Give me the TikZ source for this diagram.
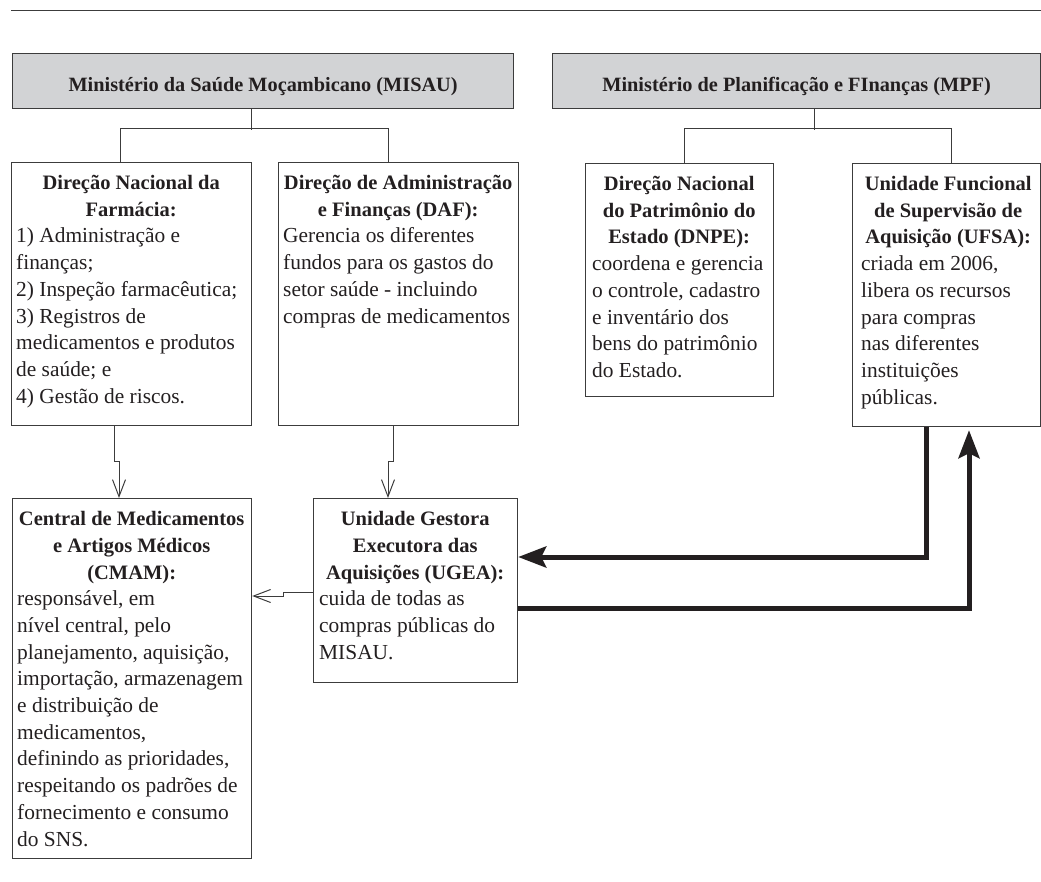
\documentclass[tikz,border=0pt]{standalone}
\usepackage{fontspec}
\setmainfont{Liberation Serif}
\usetikzlibrary{arrows.meta,calc}
\definecolor{ink}{HTML}{231F20}
\definecolor{edgec}{HTML}{3C3C3C}
\definecolor{hdr}{HTML}{D2D3D5}
\newcommand\tline[1]{\hbox to \hsize{\hss\bfseries\fontsize{20.5}{26.7}\selectfont #1\hss}}
\newcommand\bline[1]{\hbox to \hsize{#1\hss}}
\newcommand\linestack[2]{\vtop{\hsize=#1\relax\baselineskip=26.7pt\relax #2}}
\begin{document}
\begin{tikzpicture}[x=1pt,y=-1pt,
  box/.style={draw=edgec, line width=1.2pt, inner sep=0pt, anchor=north west},
  hbox/.style={box, fill=hdr},
  htxt/.style={inner sep=0pt, anchor=base, text=ink, font=\bfseries\fontsize{20.3}{24}\selectfont},
  txt/.style={inner sep=0pt, anchor=base west, text=ink, font=\fontsize{21.4}{26.7}\selectfont},
  conn/.style={draw=edgec, line width=1pt},
  tarrow/.style={conn, -{Straight Barb[length=17pt,width=13pt]}},
  bigarrow/.style={draw=ink, line width=5pt, line join=miter, -{Stealth[length=28pt,width=21pt,inset=5pt]}}
]
\useasboundingbox (0,0) rectangle (1041,882);
\draw[draw=edgec, line width=1pt] (11,11) -- (1041,11);

% headers
\node[hbox, minimum width=501pt, minimum height=55pt] (misau) at (12,53) {};
\node[htxt] (misaut) at ($(misau.center)+(0,10)$) {Ministério da Saúde Moçambicano (MISAU)};
\node[hbox, minimum width=488pt, minimum height=55pt] (mpf) at (552,53) {};
\node[htxt] (mpft) at ($(mpf.center)+(0,10)$) {Ministério de Planificação e FInanças (MPF)};

% boxes
\node[box, minimum width=240pt, minimum height=263pt] (dnf) at (11,162) {};
\node[box, minimum width=240pt, minimum height=263pt] (daf) at (278,162) {};
\node[box, minimum width=188pt, minimum height=233pt] (dnpe) at (585,163) {};
\node[box, minimum width=188pt, minimum height=263pt] (ufsa) at (852,163) {};
\node[box, minimum width=239pt, minimum height=360pt] (cmam) at (12,498) {};
\node[box, minimum width=204pt, minimum height=184pt] (ugea) at (313,498) {};

% texts
\node[txt] (dnft) at ($(dnf.north west)+(5,27.6)$) {\linestack{230pt}{%
\tline{Direção Nacional da}\tline{Farmácia:}%
\bline{1) Administração e}\bline{finanças;}\bline{2) Inspeção farmacêutica;}%
\bline{3) Registros de}\bline{medicamentos e produtos}\bline{de saúde; e}\bline{4) Gestão de riscos.}}};
\node[txt] (daft) at ($(daf.north west)+(5,27.6)$) {\linestack{230pt}{%
\tline{Direção de Administração}\tline{e Finanças (DAF):}%
\bline{Gerencia os diferentes}\bline{fundos para os gastos do}\bline{setor saúde - incluindo}\bline{compras de medicamentos}}};
\node[txt] (dnpet) at ($(dnpe.north west)+(7,27.6)$) {\linestack{174pt}{%
\tline{Direção Nacional}\tline{do Patrimônio do}\tline{Estado (DNPE):}%
\bline{coordena e gerencia}\bline{o controle, cadastro}\bline{e inventário dos}\bline{bens do patrimônio}\bline{do Estado.}}};
\node[txt] (ufsat) at ($(ufsa.north west)+(9,27.6)$) {\linestack{174pt}{%
\tline{Unidade Funcional}\tline{de Supervisão de}\tline{Aquisição (UFSA):}%
\bline{criada em 2006,}\bline{libera os recursos}\bline{para compras}\bline{nas diferentes}\bline{instituições}\bline{públicas.}}};
\node[txt] (cmamt) at ($(cmam.north west)+(5,27.6)$) {\linestack{229pt}{%
\tline{Central de Medicamentos}\tline{e Artigos Médicos}\tline{(CMAM):}%
\bline{responsável, em}\bline{nível central, pelo}\bline{planejamento, aquisição,}\bline{importação, armazenagem}%
\bline{e distribuição de}\bline{medicamentos,}\bline{definindo as prioridades,}\bline{respeitando os padrões de}%
\bline{fornecimento e consumo}\bline{do SNS.}}};
\node[txt] (ugeat) at ($(ugea.north west)+(6,27.6)$) {\linestack{192pt}{%
\tline{Unidade Gestora}\tline{Executora das}\tline{Aquisições (UGEA):}%
\bline{cuida de todas as}\bline{compras públicas do}\bline{MISAU.}}};

% tree connectors
\draw[conn] ($(misau.south west)+(239,0)$) -- ++(0,21);
\draw[conn] ($(dnf.north west)+(109,0)$) -- ++(0,-33) -| ($(daf.north west)+(110,0)$);
\draw[conn] ($(mpf.south west)+(262,0)$) -- ++(0,21);
\draw[conn] ($(dnpe.north west)+(99,0)$) -- ++(0,-34) -| ($(ufsa.north west)+(99,0)$);

% thin arrows
\draw[tarrow] ($(dnf.south west)+(103,0)$) -- ++(0,35) -- ++(5,0) -- ($(cmam.north west)+(107,0)$);
\draw[tarrow] ($(daf.south west)+(115,0)$) -- ++(0,35) -- ++(-5,0) -- ($(ugea.north west)+(75,0)$);
\draw[tarrow] ($(ugea.north west)+(0,94)$) -- ++(-30,0) -- ++(0,4) -- ($(cmam.north east)+(0,98)$);

% thick arrows
\draw[bigarrow] ($(ufsa.south west)+(74,0)$) |- ($(ugea.north east)+(0,59)$);
\draw[bigarrow, shorten >=3pt] ($(ugea.north east)+(0,110)$) -| ($(ufsa.south west)+(117,0)$);
\end{tikzpicture}
\end{document}
